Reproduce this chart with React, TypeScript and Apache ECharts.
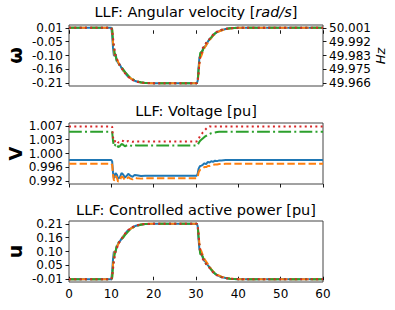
import React, { useEffect, useRef } from "react";
import * as echarts from "echarts";

const T = [0, 10, 10.2, 10.4, 10.6, 10.8, 11, 11.3, 11.6, 12, 12.4, 12.8, 13.2, 13.6, 14, 14.5, 15, 15.5, 16, 17, 18, 20, 30, 30.2, 30.4, 30.6, 30.8, 31, 31.3, 31.6, 32, 32.4, 32.8, 33.2, 33.6, 34, 34.5, 35, 35.5, 36, 37, 38, 40, 60];

const omegaBlue = [0.01, 0.01, -0.02, -0.07, -0.1, -0.1, -0.095, -0.12, -0.13, -0.135, -0.15, -0.16, -0.165, -0.178, -0.183, -0.19, -0.196, -0.2, -0.203, -0.207, -0.209, -0.21, -0.21, -0.21, -0.2, -0.15, -0.11, -0.1, -0.095, -0.075, -0.065, -0.06, -0.045, -0.035, -0.03, -0.02, -0.013, -0.007, -0.003, 0.0, 0.005, 0.008, 0.01, 0.01];
const omegaOrange = [0.01, 0.01, 0.0, -0.05, -0.08, -0.1, -0.11, -0.115, -0.125, -0.14, -0.148, -0.158, -0.168, -0.175, -0.182, -0.19, -0.195, -0.2, -0.203, -0.207, -0.21, -0.21, -0.21, -0.21, -0.205, -0.17, -0.13, -0.11, -0.1, -0.085, -0.07, -0.058, -0.05, -0.04, -0.03, -0.022, -0.015, -0.008, -0.004, -0.001, 0.004, 0.007, 0.01, 0.01];
const omegaGreen = [0.01, 0.01, 0.005, -0.04, -0.07, -0.09, -0.1, -0.125, -0.13, -0.14, -0.145, -0.155, -0.165, -0.172, -0.18, -0.188, -0.194, -0.198, -0.202, -0.206, -0.209, -0.21, -0.21, -0.21, -0.2, -0.16, -0.12, -0.09, -0.085, -0.08, -0.06, -0.05, -0.048, -0.035, -0.028, -0.02, -0.012, -0.006, -0.002, 0.001, 0.005, 0.008, 0.01, 0.01];
const omegaRed = [0.01, 0.01, 0.0, -0.03, -0.06, -0.08, -0.1, -0.11, -0.13, -0.138, -0.15, -0.158, -0.17, -0.176, -0.185, -0.19, -0.197, -0.2, -0.204, -0.207, -0.209, -0.21, -0.21, -0.21, -0.205, -0.17, -0.13, -0.1, -0.09, -0.07, -0.062, -0.05, -0.042, -0.035, -0.025, -0.018, -0.01, -0.005, -0.002, 0.002, 0.006, 0.008, 0.01, 0.01];

const voltBlue = [0.9979, 0.9979, 0.9975, 0.9945, 0.993, 0.9933, 0.9944, 0.994, 0.9929, 0.9932, 0.9944, 0.994, 0.9932, 0.9936, 0.9942, 0.9937, 0.9934, 0.9939, 0.9938, 0.9936, 0.9937, 0.9937, 0.9937, 0.9937, 0.9942, 0.9955, 0.996, 0.9963, 0.9964, 0.9966, 0.997, 0.9968, 0.9974, 0.9972, 0.9976, 0.9974, 0.9977, 0.9976, 0.9978, 0.9978, 0.9979, 0.9979, 0.9979, 0.9979];
const voltOrange = [0.9969, 0.9969, 0.9966, 0.994, 0.9924, 0.9926, 0.9936, 0.9932, 0.9921, 0.9924, 0.9935, 0.9932, 0.9925, 0.9928, 0.9933, 0.9929, 0.9927, 0.9931, 0.993, 0.9929, 0.993, 0.993, 0.993, 0.993, 0.9933, 0.9945, 0.995, 0.9953, 0.9955, 0.9957, 0.996, 0.996, 0.9963, 0.9963, 0.9965, 0.9966, 0.9967, 0.9967, 0.9968, 0.9968, 0.9969, 0.9969, 0.9969, 0.9969];
const voltGreen = [1.0055, 1.0055, 1.0054, 1.003, 1.0016, 1.0017, 1.0023, 1.0021, 1.0014, 1.0016, 1.0022, 1.002, 1.0016, 1.0018, 1.002, 1.0018, 1.0017, 1.0019, 1.0018, 1.0018, 1.0018, 1.0018, 1.0018, 1.0018, 1.0019, 1.0024, 1.0028, 1.0031, 1.0034, 1.0037, 1.0041, 1.0044, 1.0047, 1.0049, 1.0051, 1.0052, 1.0053, 1.0054, 1.0055, 1.0055, 1.0055, 1.0055, 1.0055, 1.0055];
const voltRed = [1.0069, 1.0069, 1.0068, 1.004, 1.003, 1.0028, 1.0033, 1.0031, 1.0026, 1.0027, 1.0031, 1.003, 1.0027, 1.0028, 1.003, 1.0029, 1.0028, 1.0029, 1.0029, 1.0029, 1.0029, 1.0029, 1.0029, 1.0029, 1.003, 1.0035, 1.004, 1.0044, 1.0048, 1.0053, 1.0058, 1.0063, 1.0067, 1.0069, 1.0069, 1.0069, 1.0069, 1.0069, 1.0069, 1.0069, 1.0069, 1.0069, 1.0069, 1.0069];

const uBlue = [-0.01, -0.01, 0.02, 0.07, 0.1, 0.095, 0.1, 0.12, 0.13, 0.14, 0.15, 0.16, 0.168, 0.178, 0.184, 0.19, 0.196, 0.2, 0.203, 0.207, 0.209, 0.21, 0.21, 0.21, 0.2, 0.15, 0.11, 0.1, 0.09, 0.075, 0.062, 0.058, 0.045, 0.038, 0.028, 0.02, 0.012, 0.006, 0.002, -0.001, -0.005, -0.008, -0.01, -0.01];
const uOrange = [-0.01, -0.01, 0.0, 0.05, 0.08, 0.1, 0.11, 0.118, 0.128, 0.14, 0.15, 0.158, 0.168, 0.176, 0.182, 0.19, 0.195, 0.2, 0.203, 0.207, 0.21, 0.21, 0.21, 0.21, 0.205, 0.17, 0.13, 0.11, 0.1, 0.085, 0.07, 0.06, 0.05, 0.04, 0.03, 0.022, 0.015, 0.008, 0.004, 0.0, -0.004, -0.007, -0.01, -0.01];
const uGreen = [-0.01, -0.01, -0.005, 0.04, 0.07, 0.09, 0.1, 0.125, 0.135, 0.14, 0.15, 0.155, 0.165, 0.172, 0.18, 0.188, 0.194, 0.198, 0.202, 0.206, 0.209, 0.21, 0.21, 0.21, 0.2, 0.16, 0.12, 0.09, 0.088, 0.08, 0.06, 0.05, 0.048, 0.035, 0.028, 0.02, 0.012, 0.006, 0.002, -0.001, -0.005, -0.008, -0.01, -0.01];
const uRed = [-0.01, -0.01, 0.0, 0.03, 0.06, 0.08, 0.1, 0.11, 0.13, 0.14, 0.15, 0.16, 0.17, 0.176, 0.185, 0.19, 0.197, 0.2, 0.204, 0.207, 0.209, 0.21, 0.21, 0.21, 0.205, 0.17, 0.13, 0.1, 0.09, 0.07, 0.062, 0.05, 0.042, 0.035, 0.025, 0.018, 0.01, 0.005, 0.002, -0.002, -0.006, -0.008, -0.01, -0.01];

const omegaTicks = [-0.21, -0.155, -0.1, -0.045, 0.01];
const omegaLabels = ["-0.21", "-0.16", "-0.10", "-0.05", "0.01"];
const hzLabels = ["49.966", "49.975", "49.983", "49.992", "50.001"];
const voltTicks = [0.9922, 0.995925, 0.99965, 1.003375, 1.0071];
const voltLabels = ["0.992", "0.996", "1.000", "1.003", "1.007"];
const uTicks = [-0.01, 0.045, 0.1, 0.155, 0.21];
const uLabels = ["-0.01", "0.05", "0.10", "0.16", "0.21"];
const xTicks = [0, 10, 20, 30, 40, 50, 60];

const titles = ["LLF: Voltage [pu]", "LLF: Controlled active power [pu]"];

const FONT = "DejaVu Sans";
const COLORS = ["#1f77b4", "#ff7f0e", "#2ca02c", "#d62728"];
const LW = 2;
const DASHES: any[] = ["solid", [7.4, 3.2], [12.8, 3.2, 2, 3.2], [2, 3.3]];

const GRIDS = [
  { top: 25, height: 61 },
  { top: 123, height: 61 },
  { top: 221, height: 61 },
];

function pickLabel(ticks: number[], labels: string[]) {
  return (v: number) => {
    let best = 0;
    for (let i = 0; i < ticks.length; i++) {
      if (Math.abs(ticks[i] - v) < Math.abs(ticks[best] - v)) best = i;
    }
    return labels[best];
  };
}

function padRange(ticks: number[]) {
  const lo = ticks[0];
  const hi = ticks[ticks.length - 1];
  const m = (hi - lo) * 0.05;
  return { min: lo - m, max: hi + m };
}

export default function App() {
  const ref = useRef<HTMLDivElement>(null);
  useEffect(() => {
    if (!ref.current) return;
    const chart = echarts.init(ref.current, undefined, { renderer: "svg" });

    const tickStyle = { show: true, inside: false, length: 3.5, lineStyle: { color: "#000", width: 0.9 } };
    const labelStyle = { color: "#000", fontFamily: FONT, fontSize: 12 };

    const grid = GRIDS.map((g) => ({
      left: 69,
      right: 72,
      top: g.top,
      height: g.height,
      show: true,
      borderColor: "#444",
      borderWidth: 1,
      backgroundColor: "transparent",
    }));

    const xAxis = GRIDS.map((_, i) => ({
      type: "value",
      gridIndex: i,
      min: 0,
      max: 60,
      interval: 10,
      axisLine: { show: false },
      axisTick: { ...tickStyle, customValues: xTicks },
      axisLabel: { ...labelStyle, show: i === 2, margin: 6, customValues: xTicks },
      splitLine: { show: false },
    }));

    const makeY = (gi: number, ticks: number[], labels: string[], pos: string) => ({
      type: "value",
      gridIndex: gi,
      position: pos,
      ...padRange(ticks),
      axisLine: { show: false },
      axisTick: { ...tickStyle, customValues: ticks },
      axisLabel: {
        ...labelStyle,
        margin: 6,
        customValues: ticks,
        formatter: pickLabel(ticks, labels),
      },
      splitLine: { show: false },
    });

    const yAxis = [
      makeY(0, omegaTicks, omegaLabels, "left"),
      makeY(0, omegaTicks, hzLabels, "right"),
      makeY(1, voltTicks, voltLabels, "left"),
      makeY(2, uTicks, uLabels, "left"),
    ];

    const groups = [
      { yi: 0, xi: 0, sets: [omegaBlue, omegaOrange, omegaGreen, omegaRed] },
      { yi: 2, xi: 1, sets: [voltBlue, voltOrange, voltGreen, voltRed] },
      { yi: 3, xi: 2, sets: [uBlue, uOrange, uGreen, uRed] },
    ];

    const series: any[] = [];
    groups.forEach((g) => {
      g.sets.forEach((vals, k) => {
        series.push({
          type: "line",
          xAxisIndex: g.xi,
          yAxisIndex: g.yi,
          data: T.map((t, j) => [t, vals[j]]),
          showSymbol: false,
          symbol: "none",
          lineStyle: { color: COLORS[k], width: LW, type: DASHES[k], cap: "butt" },
          z: 2 + k,
        });
      });
    });

    const cx = 69 + (395 - 69 - 72) / 2;
    const graphic: any[] = [
      {
        type: "text",
        x: cx,
        y: 12,
        style: {
          text: "{a|LLF: Angular velocity [}{b|rad/s}{a|]}",
          align: "center",
          verticalAlign: "middle",
          rich: {
            a: { fontFamily: FONT, fontSize: 14.5, fill: "#000" },
            b: { fontFamily: FONT, fontSize: 14.5, fontStyle: "italic", fill: "#000" },
          },
        },
      },
      {
        type: "text",
        x: cx,
        y: 111,
        style: { text: titles[0], align: "center", verticalAlign: "middle", fontFamily: FONT, fontSize: 14.5, fill: "#000" },
      },
      {
        type: "text",
        x: cx,
        y: 210,
        style: { text: titles[1], align: "center", verticalAlign: "middle", fontFamily: FONT, fontSize: 14.5, fill: "#000" },
      },
      {
        type: "text",
        x: 15,
        y: 55.5,
        rotation: Math.PI / 2,
        style: { text: "ω", align: "center", verticalAlign: "middle", fontFamily: FONT, fontSize: 19, fontWeight: "bold", fill: "#000" },
      },
      {
        type: "text",
        x: 15,
        y: 153.5,
        rotation: Math.PI / 2,
        style: { text: "V", align: "center", verticalAlign: "middle", fontFamily: FONT, fontSize: 18, fontWeight: "bold", fill: "#000" },
      },
      {
        type: "text",
        x: 15,
        y: 251.5,
        rotation: Math.PI / 2,
        style: { text: "u", align: "center", verticalAlign: "middle", fontFamily: FONT, fontSize: 19, fontWeight: "bold", fill: "#000" },
      },
      {
        type: "text",
        x: 380,
        y: 56,
        rotation: Math.PI / 2,
        style: { text: "Hz", align: "center", verticalAlign: "middle", fontFamily: FONT, fontSize: 13, fontStyle: "italic", fill: "#000" },
      },
    ];

    chart.setOption({
      animation: false,
      backgroundColor: "#fff",
      textStyle: { fontFamily: FONT },
      grid,
      xAxis,
      yAxis,
      series,
      graphic,
    });
    return () => chart.dispose();
  }, []);

  return (
    <div
      ref={ref}
      style={{ position: "absolute", left: 0, top: 0, width: 395, height: 310 }}
    />
  );
}
